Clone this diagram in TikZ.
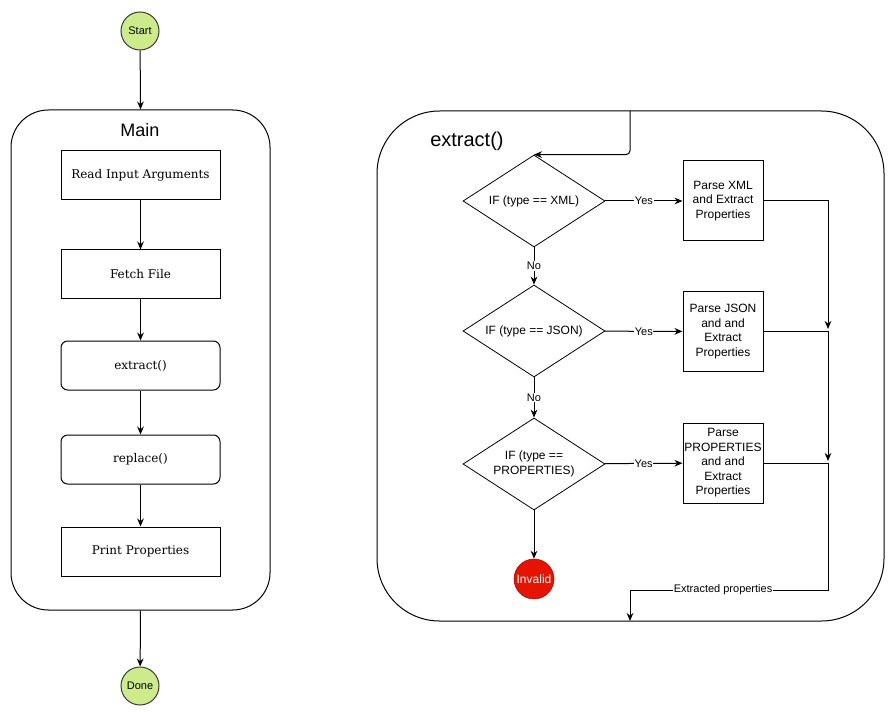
\documentclass[tikz,border=0pt]{standalone}
\usepackage{fontspec}
\setmainfont{DejaVu Serif}
\setsansfont{Liberation Sans}
\usetikzlibrary{positioning,calc,arrows.meta,shapes.geometric}

\definecolor{termgreen}{HTML}{CDEB8B}
\definecolor{termedge}{HTML}{36393D}
\definecolor{badred}{HTML}{E51400}
\definecolor{badedge}{HTML}{B20000}

\tikzset{
	line/.style={draw, line width=0.75pt, -{Stealth[length=6pt, width=5pt]}},
	group/.style={draw, line width=0.75pt},
	grouptitle/.style={font=\sffamily\fontsize{13.5}{16}\selectfont, inner sep=0pt},
	proc/.style={draw, line width=0.75pt, minimum width=119.25pt, minimum height=36.75pt,
		inner sep=1pt, font=\fontsize{9}{11}\selectfont},
	call/.style={proc, rounded corners=5pt},
	parse/.style={draw, line width=0.75pt, minimum width=60pt, minimum height=60pt,
		inner sep=0pt, align=center, font=\sffamily\fontsize{9}{10.9}\selectfont},
	decide/.style={draw, line width=0.6pt, diamond, aspect=1.5, minimum width=106.5pt,
		minimum height=69pt, inner sep=0pt, align=center, font=\sffamily\fontsize{9}{11.2}\selectfont},
	term/.style={circle, draw=termedge, fill=termgreen, line width=0.75pt, minimum size=28.5pt,
		inner sep=0pt, font=\sffamily\fontsize{8.25}{10}\selectfont},
	lbl/.style={fill=white, inner sep=0.5pt, font=\sffamily\fontsize{8.25}{10}\selectfont}
}

\begin{document}
\begin{tikzpicture}[x=0.75pt, y=-0.75pt]
	\useasboundingbox (0,0) rectangle (895,716);

	% left column
	\node[term] (start) at (140,31) {Start};
	\node[group, minimum width=194.25pt, minimum height=375pt, rounded corners=28pt] (main) at (140.5,360) {};
	\node[grouptitle] (maintitle) at (140,130) {Main};
	\node[proc] (readargs) at (140.5,175.5) {Read Input Arguments};
	\node[proc] (fetch) at (140.5,274.5) {Fetch File};
	\node[call] (extract) at (140.5,365.5) {extract()};
	\node[call] (replace) at (140.5,459.5) {replace()};
	\node[proc] (print) at (140.5,551.5) {Print Properties};
	\node[term] (done) at (140,686) {Done};

	\draw[line] (start) -- (main.north);
	\draw[line] (readargs) -- (fetch);
	\draw[line] (fetch) -- (extract);
	\draw[line] (extract) -- (replace);
	\draw[line] (replace) -- (print);
	\draw[line] (main.south) -- (done);

	% extract() group
	\node[group, minimum width=380.25pt, minimum height=382.5pt, rounded corners=47pt] (exbox) at (630.5,366) {};
	\node[grouptitle, font=\sffamily\fontsize{15}{18}\selectfont, anchor=west] (extitle) at (430,141) {extract()};

	\node[decide] (ifxml) at (534,201) {IF (type == XML)};
	\node[decide] (ifjson) at (534,331) {IF (type == JSON)};
	\node[decide] (ifprop) at (534,464) {IF (type ==\\PROPERTIES)};
	\node[circle, draw=badedge, fill=badred, text=white, minimum size=30pt, inner sep=0pt,
		font=\sffamily\fontsize{9}{11}\selectfont] (invalid) at (534,579) {Invalid};

	\node[parse] (pxml) at (723,201) {Parse XML\\and Extract\\Properties};
	\node[parse] (pjson) at (723,331.5) {Parse JSON\\and and\\Extract\\Properties};
	\node[parse] (pprop) at (723,463) {Parse\\PROPERTIES\\and and\\Extract\\Properties};

	\coordinate (exin) at (630,111);
	\coordinate (j1) at (828,329);
	\coordinate (j2) at (828,461);
	\coordinate (c1) at (828,590);
	\coordinate (c2) at (630,590);
	\coordinate (exout) at (630,621);

	\draw[line, rounded corners=3pt] (exin) |- (ifxml.north);
	\draw[line] (ifxml) -- node[lbl] {Yes} (pxml);
	\draw[line] (ifjson) -- node[lbl] {Yes} (pjson);
	\draw[line] (ifprop) -- node[lbl] {Yes} (pprop);
	\draw[line] (ifxml) -- node[lbl] {No} (ifjson);
	\draw[line] (ifjson) -- node[lbl] {No} (ifprop);
	\draw[line] (ifprop) -- (invalid);

	\draw[line] (pxml.east) -| (j1);
	\draw[line] (pjson.east) -| (j2);
	\draw[line] (pprop.east) -| (c1) -- node[lbl, pos=0.53] {Extracted properties} (c2) -- (exout);
\end{tikzpicture}
\end{document}
